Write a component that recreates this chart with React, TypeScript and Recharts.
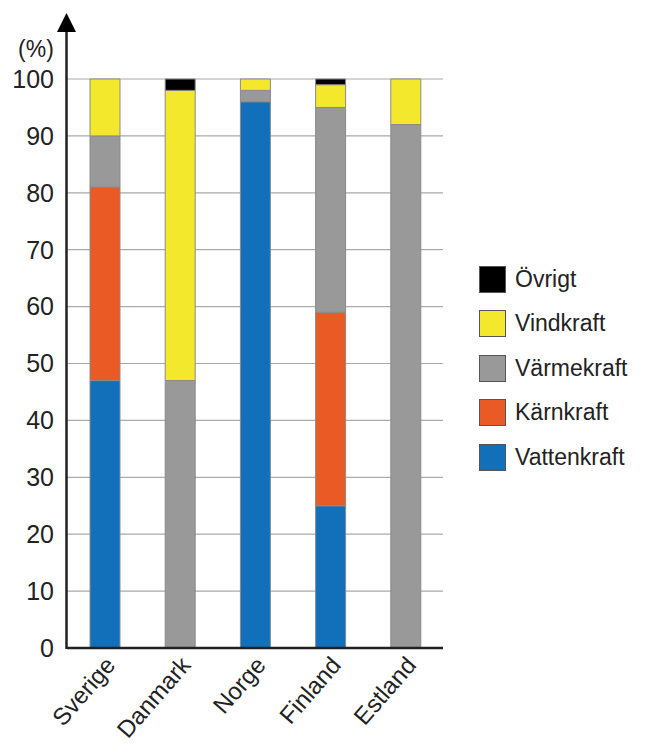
import { BarChart, Bar, XAxis, YAxis, CartesianGrid } from 'recharts';

const countries = ['Sverige', 'Danmark', 'Norge', 'Finland', 'Estland'];
const vattenkraft = [47, 0, 96, 25, 0];
const karnkraft = [34, 0, 0, 34, 0];
const varmekraft = [9, 47, 2, 36, 92];
const vindkraft = [10, 51, 2, 4, 8];
const ovrigt = [0, 2, 0, 1, 0];
const yTicks = [0, 10, 20, 30, 40, 50, 60, 70, 80, 90, 100];

const series = [
  { key: 'Vattenkraft', color: '#1170b9' },
  { key: 'Kärnkraft', color: '#e95a25' },
  { key: 'Värmekraft', color: '#999999' },
  { key: 'Vindkraft', color: '#f4e82c' },
  { key: 'Övrigt', color: '#000000' },
];

const data = countries.map((name, i) => ({
  name,
  Vattenkraft: vattenkraft[i],
  Kärnkraft: karnkraft[i],
  Värmekraft: varmekraft[i],
  Vindkraft: vindkraft[i],
  Övrigt: ovrigt[i],
}));

const font = '"Liberation Sans", Arial, Helvetica, sans-serif';

function CountryTick({ x, payload }: any) {
  // anchor the end of each label just under the axis, right of the bar centre
  return (
    <g transform={`translate(${x + 12},666)`}>
      <text transform="rotate(-49)" textAnchor="end" fontSize={24} fill="#222" fontFamily={font}>
        {payload.value}
      </text>
    </g>
  );
}

function LegendBox() {
  const items = [...series].reverse();
  return (
    <div style={{ position: 'absolute', left: 479, top: 257, fontFamily: font, fontSize: 23, color: '#222' }}>
      {items.map(s => (
        <div key={s.key} style={{ display: 'flex', alignItems: 'center', height: 44.5 }}>
          <span
            style={{
              width: 27, height: 27, background: s.color, border: '1px solid #555',
              boxSizing: 'border-box', marginRight: 9, display: 'inline-block',
            }}
          />
          {s.key}
        </div>
      ))}
    </div>
  );
}

export default function App() {
  return (
    <div style={{ position: 'absolute', left: 0, top: 0, width: 650, height: 744, background: '#fff' }}>
      <BarChart width={650} height={744} data={data} margin={{ top: 79, right: 207, bottom: 0, left: 0 }} barSize={30}>
        <CartesianGrid vertical={false} stroke="#aaaaaa" strokeWidth={1.2} />
        <XAxis
          dataKey="name" height={96} interval={0} tickLine={false}
          axisLine={{ stroke: '#222', strokeWidth: 2.5 }} tick={<CountryTick />}
        />
        <YAxis
          width={67} domain={[0, 100]} ticks={yTicks} interval={0} tickLine={false} axisLine={false}
          tickMargin={7} tick={{ fontSize: 25, fill: '#222', fontFamily: font }}
        />
        {series.map(s => (
          <Bar key={s.key} dataKey={s.key} stackId="a" fill={s.color} stroke="#8a8a8a" strokeWidth={1} isAnimationActive={false} />
        ))}
      </BarChart>
      <LegendBox />
      <svg width={650} height={744} style={{ position: 'absolute', left: 0, top: 0, pointerEvents: 'none' }}>
        <line x1={66.5} y1={24} x2={66.5} y2={649} stroke="#222" strokeWidth={2.5} />
        <polygon points="57,32 76,32 66.5,13" fill="#000" />
        <text x={36} y={57} fontSize={23} fill="#222" fontFamily={font} textAnchor="middle">(%)</text>
      </svg>
    </div>
  );
}
